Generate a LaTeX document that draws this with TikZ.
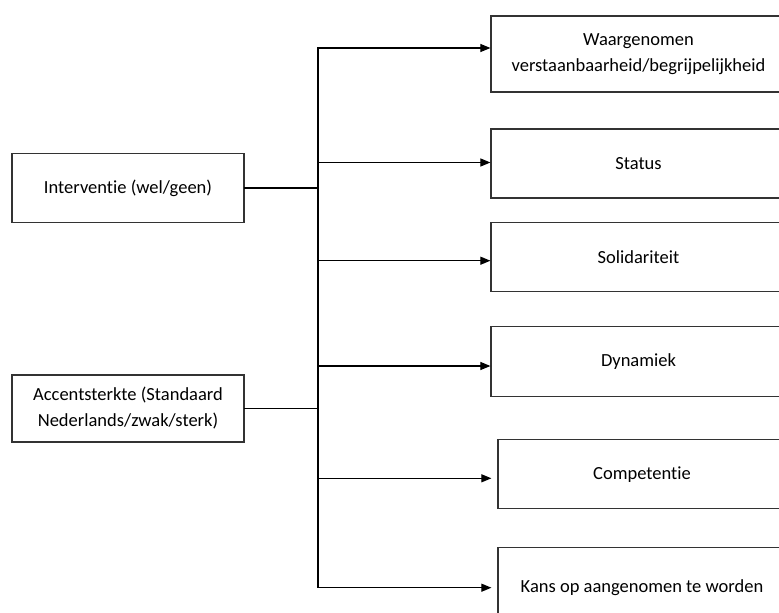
\documentclass[tikz,border=0pt]{standalone}
\usepackage{fontspec}
\setmainfont{Carlito}[Ligatures=NoCommon]
\usetikzlibrary{arrows.meta,calc}

\tikzset{
  box/.style={draw=black!80,line width=1.2pt,rectangle,align=center,inner sep=0pt,
    text=black,font=\fontsize{18.5}{26}\selectfont},
  link/.style={line width=1.1pt,line cap=rect},
  arr/.style={line width=1.1pt,-{Triangle[length=10pt,width=8pt]}}
}

\begin{document}
\begin{tikzpicture}[x=1pt,y=-1pt]
\useasboundingbox (0,0) rectangle (779,613);

% predictors
\node[box,minimum width=232pt,minimum height=69pt] (int) at (128,188) {Interventie (wel/geen)};
\node[box,minimum width=232pt,minimum height=67pt] (acc) at (128,408.5) {Accentsterkte (Standaard\\Nederlands/zwak/sterk)};

% outcomes
\node[box,minimum width=295pt,minimum height=76pt] (verst) at (638.5,54) {Waargenomen\\verstaanbaarheid/begrijpelijkheid};
\node[box,minimum width=295pt,minimum height=69pt] (stat) at (638.5,163.5) {Status};
\node[box,minimum width=295pt,minimum height=69pt] (sol) at (638.5,257.3) {Solidariteit};
\node[box,minimum width=295pt,minimum height=70pt] (dyn) at (638.5,361.5) {Dynamiek};
\node[box,minimum width=288pt,minimum height=69pt] (comp) at (642,474.3) {Competentie};
\node[box,minimum width=288pt,minimum height=80pt] (kans) at (642,587.7) {Kans op aangenomen te worden};

\coordinate (spine) at (318,0);
\coordinate (t1) at ([yshift=6pt]verst.west);
\coordinate (t2) at ([yshift=1pt]stat.west);
\coordinate (t3) at ([yshift=-3.4pt]sol.west);
\coordinate (t4) at ([yshift=-4.5pt]dyn.west);
\coordinate (t5) at ([yshift=-4pt]comp.west);
\coordinate (t6) at (kans.west);

\draw[link] (spine |- t1) -- (spine |- t6);
\draw[link] (int.east) -- (spine |- int.east);
\draw[link] (acc.east) -- (spine |- acc.east);

\draw[arr] (spine |- t1) -- (t1);
\draw[arr] (spine |- t2) -- (t2);
\draw[arr] (spine |- t3) -- (t3);
\draw[arr] (spine |- t4) -- (t4);
\draw[arr,shorten >=6pt] (spine |- t5) -- (t5);
\draw[arr,shorten >=6pt] (spine |- t6) -- (t6);

\end{tikzpicture}
\end{document}
